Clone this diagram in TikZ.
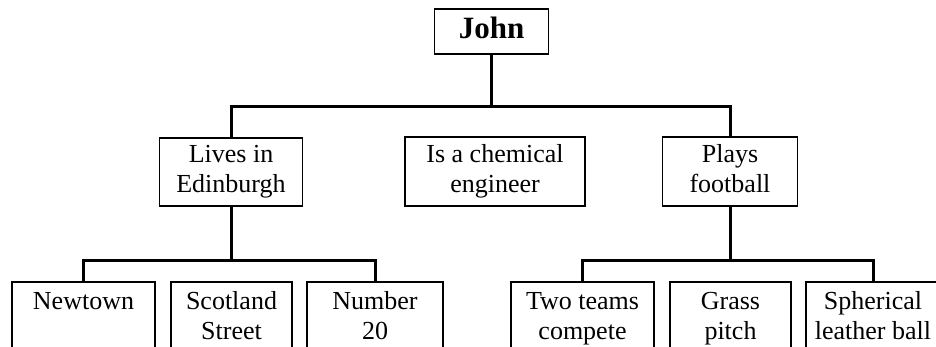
\documentclass[tikz,border=0pt]{standalone}
\usepackage{fontspec}
\setmainfont{Liberation Serif}
\begin{document}
\begin{tikzpicture}[x=0.5pt,y=-0.5pt,
  box/.style={draw, line width=0.75pt, align=center, inner sep=0pt,
    font=\fontsize{13pt}{15pt}\selectfont},
  link/.style={line width=1.5pt}]
\useasboundingbox (0,0) rectangle (936,347);
\clip (0,0) rectangle (936,347);
% root
\node[box, minimum width=57pt, minimum height=22.5pt,
  font=\fontsize{15.5pt}{18pt}\selectfont\bfseries] (john) at (491.5,31.5) {\strut John};
% second level
\node[box, minimum width=71.5pt, minimum height=34pt] (lives) at (231,172) {\strut Lives in\\\strut Edinburgh};
\node[box, minimum width=90pt, minimum height=34.5pt] (chem) at (495,171.5) {\strut Is a chemical\\\strut engineer};
\node[box, minimum width=67.5pt, minimum height=34.5pt] (plays) at (730,171.5) {\strut Plays\\\strut football};
% third level
\node[box, minimum width=71.5pt, minimum height=36pt] (newtown) at (83.5,318) {\strut Newtown\\\strut};
\node[box, minimum width=60.5pt, minimum height=36pt] (scot) at (231.5,318) {\strut Scotland\\\strut Street};
\node[box, minimum width=68pt, minimum height=36pt] (num) at (375,318) {\strut Number\\\strut 20};
\node[box, minimum width=71.5pt, minimum height=36pt] (two) at (582.5,318) {\strut Two teams\\\strut compete};
\node[box, minimum width=60.5pt, minimum height=36pt] (grass) at (730.5,318) {\strut Grass\\\strut pitch};
\node[box, minimum width=67pt, minimum height=36pt] (ball) at (873,318) {\strut Spherical\\\strut leather ball};
% connectors
\coordinate (bus1) at (491.5,107);
\draw[link] (john.south) -- (bus1);
\draw[link] (lives.north) |- (bus1) -| (plays.north);
\coordinate (bus2) at (231,260);
\draw[link] (lives.south) -- (bus2);
\draw[link] (newtown.north) |- (bus2) -| (num.north);
\coordinate (bus3) at (730,260);
\draw[link] (plays.south) -- (bus3);
\draw[link] (two.north) |- (bus3) -| (ball.north);
\end{tikzpicture}
\end{document}
